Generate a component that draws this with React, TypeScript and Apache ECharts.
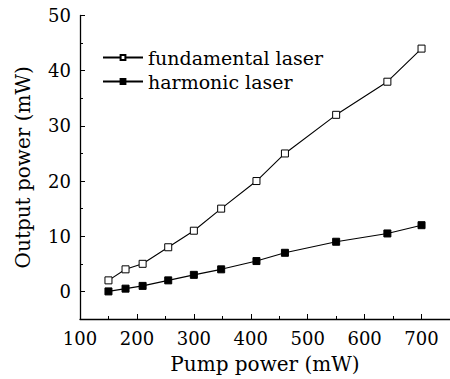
import React, { useEffect, useRef } from "react";
import * as echarts from "echarts";

const pumpPower = [150, 180, 210, 255, 300, 348, 410, 460, 550, 640, 700];
const fundamental = [2, 4, 5, 8, 11, 15, 20, 25, 32, 38, 44];
const harmonic = [0, 0.5, 1, 2, 3, 4, 5.5, 7, 9, 10.5, 12];
const seriesNames = ["fundamental laser", "harmonic laser"];
const xTicks = [100, 200, 300, 400, 500, 600, 700];
const yTicks = [0, 10, 20, 30, 40, 50];
const xTitle = "Pump power (mW)";
const yTitle = "Output power (mW)";

const FONT = "DejaVu Serif";

export default function App() {
  const ref = useRef<HTMLDivElement>(null);
  useEffect(() => {
    if (!ref.current) return;
    const chart = echarts.init(ref.current, undefined, { renderer: "svg" });
    chart.setOption({
      animation: false,
      backgroundColor: "#fff",
      grid: { left: 80, right: -2, top: 15.5, bottom: 60, containLabel: false },
      legend: {
        orient: "vertical",
        left: 102,
        top: 48,
        padding: 0,
        itemWidth: 40,
        itemHeight: 6,
        itemGap: 5,
        textStyle: { fontFamily: FONT, fontSize: 19, color: "#000" },
        data: seriesNames,
      },
      xAxis: [
        {
          type: "value",
          min: 100,
          max: 750,
          position: "bottom",
          name: xTitle,
          nameLocation: "middle",
          nameGap: 35,
          nameTextStyle: { fontFamily: FONT, fontSize: 20, color: "#000" },
          axisLine: { onZero: false, lineStyle: { color: "#000", width: 1.3 } },
          axisTick: { inside: true, length: 5, customValues: xTicks, lineStyle: { color: "#000", width: 1 } },
          axisLabel: {
            customValues: xTicks,
            color: "#000",
            fontFamily: FONT,
            fontSize: 18,
            margin: 10,
          },
          splitLine: { show: false },
        },
        {
          type: "value",
          min: 100,
          max: 750,
          interval: 50,
          position: "bottom",
          axisLine: { show: false, onZero: false },
          axisTick: { inside: true, length: 3, lineStyle: { color: "#000", width: 1 } },
          axisLabel: { show: false },
          splitLine: { show: false },
        },
      ],
      yAxis: [
        {
          type: "value",
          min: -5,
          max: 50,
          position: "left",
          name: yTitle,
          nameLocation: "middle",
          nameGap: 47,
          nameTextStyle: { fontFamily: FONT, fontSize: 20, color: "#000" },
          axisLine: { show: true, onZero: false, lineStyle: { color: "#000", width: 1.3 } },
          axisTick: { inside: true, length: 5, customValues: yTicks, lineStyle: { color: "#000", width: 1 } },
          axisLabel: {
            customValues: yTicks,
            color: "#000",
            fontFamily: FONT,
            fontSize: 18,
            margin: 9,
          },
          splitLine: { show: false },
        },
        {
          type: "value",
          min: -5,
          max: 50,
          interval: 5,
          position: "left",
          axisLine: { show: false, onZero: false },
          axisTick: { inside: true, length: 3, lineStyle: { color: "#000", width: 1 } },
          axisLabel: { show: false },
          splitLine: { show: false },
        },
      ],
      series: [
        {
          name: seriesNames[0],
          type: "line",
          xAxisIndex: 0,
          yAxisIndex: 0,
          data: pumpPower.map((x, i) => [x, fundamental[i]]),
          symbol: "rect",
          symbolSize: 7,
          lineStyle: { color: "#000", width: 1.1 },
          itemStyle: { color: "#fff", borderColor: "#000", borderWidth: 1 },
        },
        {
          name: seriesNames[1],
          type: "line",
          xAxisIndex: 0,
          yAxisIndex: 0,
          data: pumpPower.map((x, i) => [x, harmonic[i]]),
          symbol: "rect",
          symbolSize: 7,
          lineStyle: { color: "#000", width: 1.1 },
          itemStyle: { color: "#000", borderColor: "#000", borderWidth: 1 },
        },
      ],
    });
    return () => chart.dispose();
  }, []);
  return (
    <div
      ref={ref}
      style={{ position: "fixed", left: 0, top: 0, width: 450, height: 379, background: "#fff" }}
    />
  );
}
